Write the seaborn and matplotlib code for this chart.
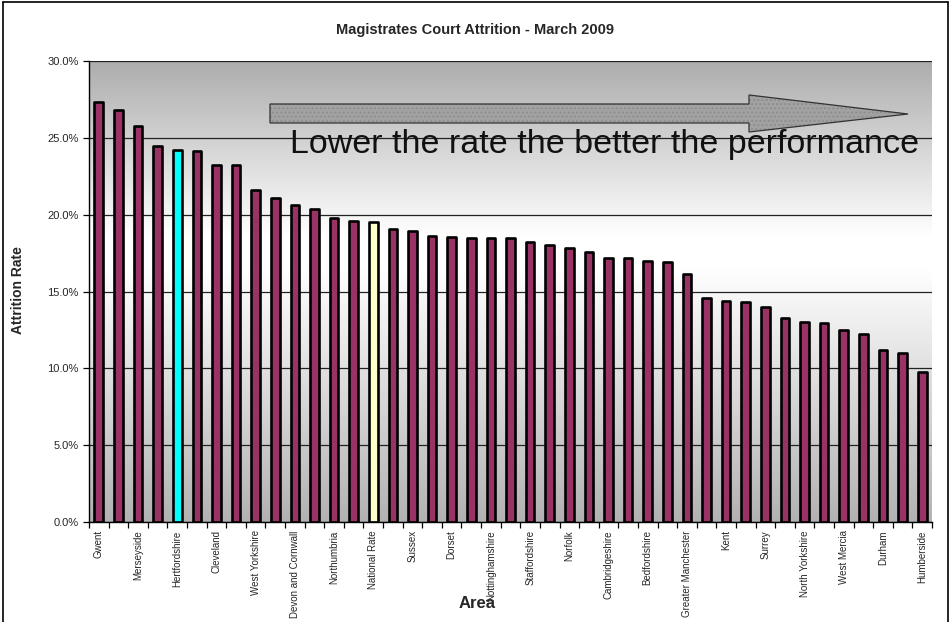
import numpy as np
import pandas as pd
import matplotlib
matplotlib.use("Agg")
import matplotlib.pyplot as plt
import seaborn as sns
from matplotlib.patches import Polygon
from matplotlib.colors import LinearSegmentedColormap
from matplotlib.lines import Line2D

# ---- data ----
areas = [
    "Gwent", "Lancashire", "Merseyside", "London", "Hertfordshire", "South Wales",
    "Cleveland", "West Midlands", "West Yorkshire", "Essex", "Devon and Cornwall",
    "Cheshire", "Northumbria", "Derbyshire", "National Rate", "Avon and Somerset",
    "Sussex", "Leicestershire", "Dorset", "South Yorkshire", "Nottinghamshire",
    "Thames Valley", "Staffordshire", "Hampshire", "Norfolk", "Gloucestershire",
    "Cambridgeshire", "Lincolnshire", "Bedfordshire", "Northamptonshire",
    "Greater Manchester", "Warwickshire", "Kent", "Suffolk", "Surrey", "Wiltshire",
    "North Yorkshire", "Cumbria", "West Mercia", "Dyfed Powys", "Durham",
    "North Wales", "Humberside",
]
attrition = [
    27.3, 26.8, 25.8, 24.5, 24.2, 24.15, 23.2, 23.2, 21.6, 21.1, 20.6,
    20.4, 19.8, 19.6, 19.5, 19.05, 18.95, 18.6, 18.55, 18.5, 18.48,
    18.48, 18.23, 18.0, 17.8, 17.58, 17.17, 17.15, 16.97, 16.9,
    16.15, 14.55, 14.4, 14.33, 13.96, 13.3, 13.02, 12.96, 12.48, 12.24, 11.2,
    11.03, 9.73,
]
yticks = [0, 5, 10, 15, 20, 25, 30]
highlight = {"Hertfordshire": "#00FFFF", "National Rate": "#FFFFCC"}
base_color = "#993366"

df = pd.DataFrame({"Area": areas, "Rate": attrition})
palette = {a: highlight.get(a, base_color) for a in areas}

sns.set_theme(style="white")
plt.rcParams["font.family"] = ["Liberation Sans", "DejaVu Sans"]

fig = plt.figure(figsize=(9.5, 6.22), dpi=100)
ax = fig.add_axes([89 / 950, 1 - 522 / 622, (932 - 89) / 950, (522 - 61) / 622])

# gradient background (gray -> white -> gray)
cmap = LinearSegmentedColormap.from_list(
    "bg", [(0.0, "#b2b2b2"), (0.55, "#ffffff"), (0.62, "#ffffff"), (1.0, "#adadad")]
)
grad = np.linspace(0, 1, 256).reshape(-1, 1)
ax.imshow(grad, extent=[-0.5, len(areas) - 0.5, 0, 30], origin="lower",
          aspect="auto", cmap=cmap, zorder=0)

sns.barplot(data=df, x="Area", y="Rate", hue="Area", palette=palette,
            legend=False, width=0.44, edgecolor="black", linewidth=1.9,
            saturation=1, ax=ax, zorder=3)
for p in ax.patches:
    p.set_joinstyle("round")

ax.set_xlim(-0.5, len(areas) - 0.5)
ax.set_ylim(0, 30)
ax.set_yticks(yticks)
ax.set_yticklabels([f"{v:.1f}%" for v in yticks], fontsize=8)
for v in yticks:
    ax.axhline(v, color="#222222", lw=0.9, zorder=1)

ax.set_xticks(range(len(areas)))
ax.set_xticklabels([a if i % 2 == 0 else "" for i, a in enumerate(areas)],
                   rotation=90, fontsize=7)
ax.set_xticks(np.arange(-0.5, len(areas)), minor=True)
ax.tick_params(axis="x", which="major", length=0, pad=6)
ax.tick_params(axis="x", which="minor", length=4, color="black", width=0.9,
               direction="out", bottom=True)
ax.tick_params(axis="y", length=4, color="black", width=0.9, direction="out", left=True)

for s in ["top", "right"]:
    ax.spines[s].set_visible(False)
for s in ["left", "bottom"]:
    ax.spines[s].set_color("black")
    ax.spines[s].set_linewidth(1.0)
    ax.spines[s].set_zorder(4)

ax.set_xlabel("")
ax.set_ylabel("")

# arrow annotation
def px(x, y):
    return (x / 950, 1 - y / 622)

arrow_pts = [px(270, 104), px(749, 104), px(749, 95), px(908, 114),
             px(749, 132), px(749, 123), px(270, 123)]
fig.add_artist(Polygon(arrow_pts, closed=True, transform=fig.transFigure,
                       facecolor="#a2a2a2", edgecolor="#8e8e8e", lw=0,
                       hatch="....", zorder=5))
fig.add_artist(Polygon(arrow_pts, closed=True, transform=fig.transFigure,
                       facecolor="none", edgecolor="#333333", lw=0.9, zorder=5))
fig.text(290 / 950, 1 - 145 / 622, "Lower the rate the better the performance",
         fontsize=24.5, va="center", ha="left", color="#111111", zorder=6)

# titles / labels
fig.text(0.5, 1 - 30 / 622, "Magistrates Court Attrition - March 2009",
         fontsize=10.5, fontweight="bold", ha="center", va="center")
fig.text(18 / 950, 1 - 290 / 622, "Attrition Rate", fontsize=10,
         fontweight="bold", rotation=90, ha="center", va="center")
fig.text(477 / 950, 1 - 604 / 622, "Area", fontsize=12, fontweight="bold",
         ha="center", va="center")

# outer frame
for (x0, y0, x1, y1) in [(3, 622, 3, 2), (3, 2, 948, 2), (948, 2, 948, 622)]:
    fig.add_artist(Line2D([x0 / 950, x1 / 950], [1 - y0 / 622, 1 - y1 / 622],
                          transform=fig.transFigure, color="black", lw=1.2))

fig.savefig("out.png", dpi=100)
